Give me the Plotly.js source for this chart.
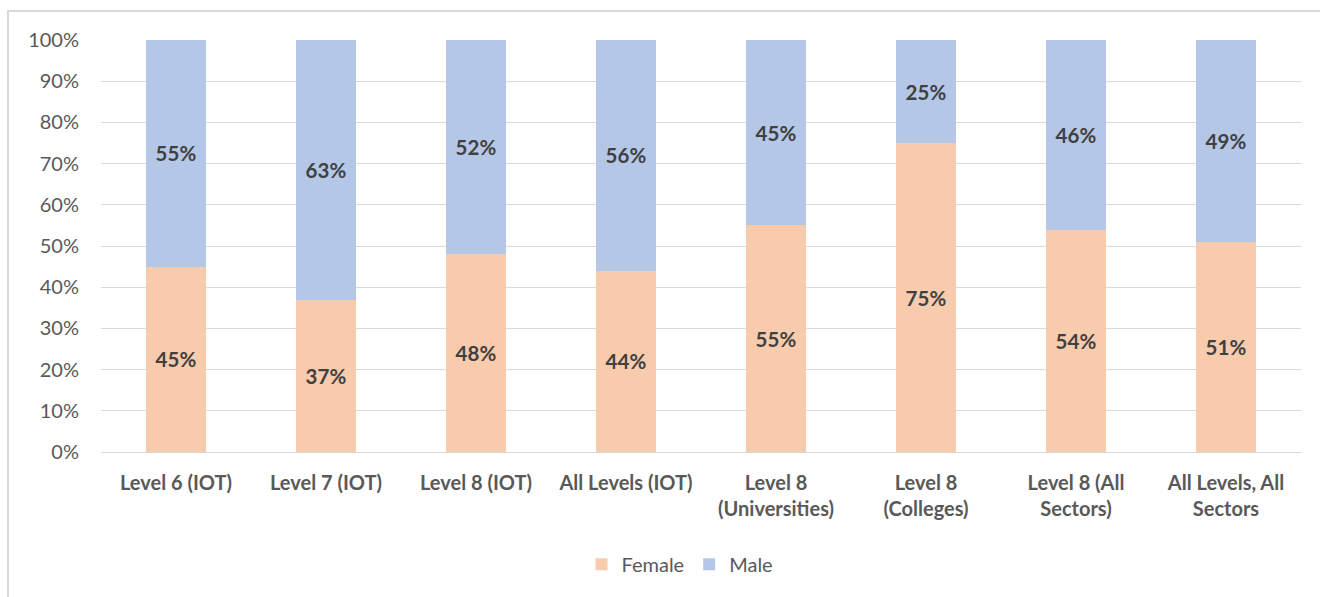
<!DOCTYPE html>
<html>
<head>
<meta charset="utf-8">
<script src="https://cdn.plot.ly/plotly-3.0.1.min.js"></script>
<style>
html,body{margin:0;padding:0;background:#fff;}
#chart{width:1320px;height:597px;}
#frame{position:absolute;left:7px;top:10px;width:1330px;height:600px;border:2px solid #d9d9d9;pointer-events:none;box-sizing:border-box;}
</style>
</head>
<body>
<div id="chart"></div>
<div id="frame"></div>
<script>
const categories = ["Level 6 (IOT)", "Level 7 (IOT)", "Level 8 (IOT)", "All Levels (IOT)", "Level 8<br>(Universities)", "Level 8<br>(Colleges)", "Level 8 (All<br>Sectors)", "All Levels, All<br>Sectors"];
const female = [45, 37, 48, 44, 55, 75, 54, 51];
const male = [55, 63, 52, 56, 45, 25, 46, 49];
const yTicks = [0,10,20,30,40,50,60,70,80,90,100];

const fontFam = "Lato, 'Liberation Sans', sans-serif";
const labelFont = {family: fontFam, size: 20.5, color: '#404040', weight: 'bold'};

const traces = [
  {type:'bar', name:'Female', x:categories, y:female, marker:{color:'#F8CBAD'},
   text:female.map(v=>'<b>'+v+'%</b>'), textposition:'inside', insidetextanchor:'middle',
   textfont:labelFont, hoverinfo:'none'},
  {type:'bar', name:'Male', x:categories, y:male, marker:{color:'#B4C7E7'},
   text:male.map(v=>'<b>'+v+'%</b>'), textposition:'inside', insidetextanchor:'middle',
   textfont:labelFont, hoverinfo:'none'}
];

const layout = {
  width:1320, height:597,
  barmode:'stack', bargap:0.6,
  margin:{l:101, r:19, t:40, b:145},
  paper_bgcolor:'#fff', plot_bgcolor:'#fff',
  font:{family:fontFam, color:'#595959'},
  xaxis:{tickfont:{family:fontFam, size:20, color:'#595959', weight:'bold'},
         showline:true, linecolor:'#d9d9d9', linewidth:1, ticks:'', ticklabelstandoff:13,
         fixedrange:true},
  yaxis:{range:[0,100], tickvals:yTicks, ticktext:yTicks.map(v=>v+'%'),
         tickfont:{family:fontFam, size:20, color:'#595959'},
         showgrid:true, gridcolor:'#d9d9d9', gridwidth:1, zeroline:false,
         ticks:'', ticklabelstandoff:21, fixedrange:true},
  legend:{orientation:'h', x:0.4825, xanchor:'center', y:-0.225, yanchor:'top',
          font:{family:fontFam, size:20, color:'#595959'}, traceorder:'normal',
          itemwidth:30},
  showlegend:true
};

Plotly.newPlot('chart', traces, layout, {displayModeBar:false, staticPlot:true});
</script>
</body>
</html>
